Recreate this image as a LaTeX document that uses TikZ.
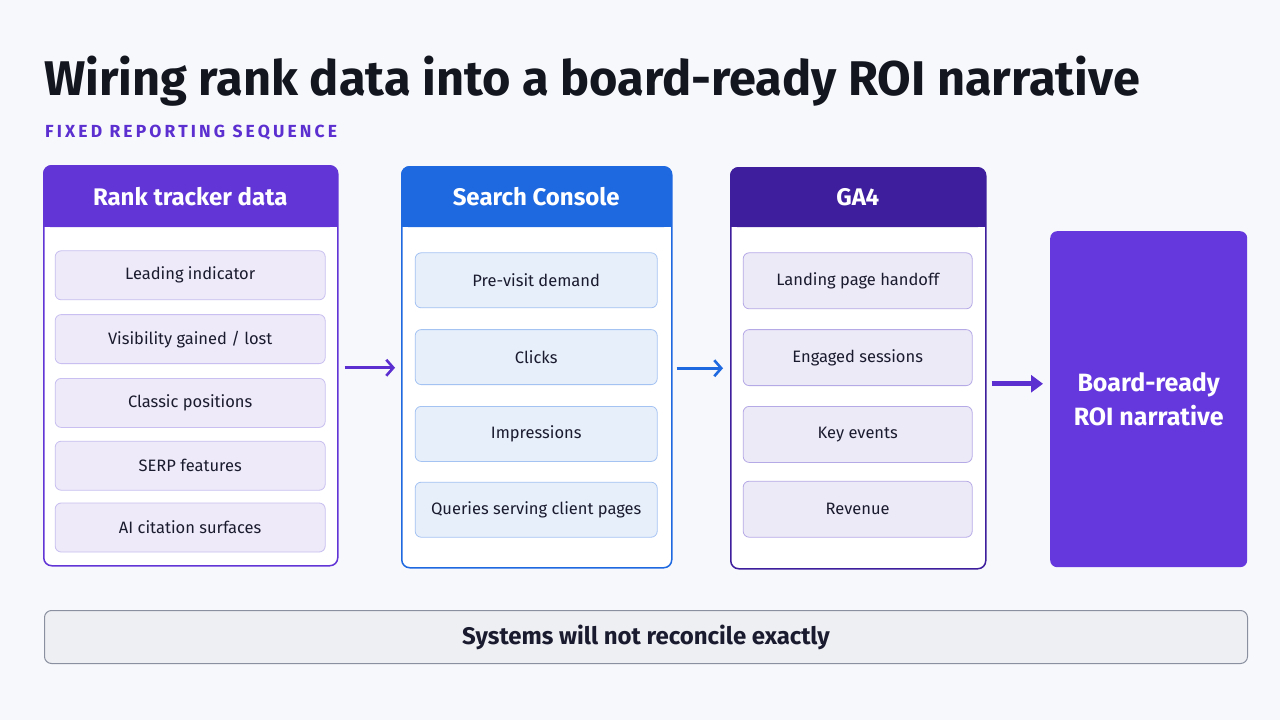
\documentclass[tikz,border=0pt]{standalone}
\usepackage{fontspec}
\setmainfont{Fira Sans}
\newfontfamily\spacedfont[LetterSpace=18]{Fira Sans}
\usetikzlibrary{positioning,arrows.meta,calc}

\definecolor{bgcol}{HTML}{F7F8FC}
\definecolor{titlecol}{HTML}{13161F}
\definecolor{kickercol}{HTML}{5B2FD0}
\definecolor{rankcol}{HTML}{6236D6}
\definecolor{rankitem}{HTML}{EEEAF9}
\definecolor{rankline}{HTML}{C9BFF0}
\definecolor{sccol}{HTML}{1F69E0}
\definecolor{scitem}{HTML}{E7EFFB}
\definecolor{scline}{HTML}{A5C3F2}
\definecolor{gacol}{HTML}{3E1E9C}
\definecolor{gaitem}{HTML}{EDEAF8}
\definecolor{galine}{HTML}{B6AAE6}
\definecolor{boardcol}{HTML}{6538DE}
\definecolor{notecol}{HTML}{EEEFF3}
\definecolor{noteline}{HTML}{8A90A0}
\definecolor{inkcol}{HTML}{1A1B2E}

\begin{document}
\begin{tikzpicture}[x=1pt, y=-1pt,
    panel/.style={draw, line width=1.5pt, fill=white, rounded corners=8pt, anchor=north west},
    header/.style={rounded corners=8pt, anchor=north west, text=white, font=\bfseries\fontsize{24}{28}\selectfont},
    item/.style={draw, line width=0.8pt, rounded corners=6pt, text=inkcol, font=\fontsize{16.5}{20}\selectfont},
    flow/.style={line width=2.6pt, -{Straight Barb[length=7pt,width=16pt,line width=2.6pt]}}]

    \useasboundingbox[fill=bgcol] (0,0) rectangle (1280,720);

    % Title
    \node(title) [anchor=base west, inner sep=0pt, text=titlecol, font=\bfseries\fontsize{48.7}{56}\selectfont] at (44,95) {Wiring rank data into a board-ready ROI narrative};
    \node(kicker) [anchor=base west, inner sep=0pt, text=kickercol, font=\spacedfont\bfseries\fontsize{17.5}{20}\selectfont] at (45,137) {FIXED REPORTING SEQUENCE};

    % Rank tracker
    \node(p1) [panel, draw=rankcol, minimum width=294, minimum height=400] at (43,165) {};
    \fill[rankcol] (43,196) rectangle (337,227);
    \node(h1) [header, fill=rankcol, minimum width=294, minimum height=62] at (43,165) {Rank tracker data};
    \node(r1) [item, draw=rankline, fill=rankitem, minimum width=270, minimum height=49, below=23pt of h1] {Leading indicator};
    \node(r2) [item, draw=rankline, fill=rankitem, minimum width=270, minimum height=49, below=14pt of r1] {Visibility gained / lost};
    \node(r3) [item, draw=rankline, fill=rankitem, minimum width=270, minimum height=49, below=14pt of r2] {Classic positions};
    \node(r4) [item, draw=rankline, fill=rankitem, minimum width=270, minimum height=49, below=13pt of r3] {SERP features};
    \node(r5) [item, draw=rankline, fill=rankitem, minimum width=270, minimum height=49, below=12pt of r4] {AI citation surfaces};

    % Search Console
    \node(p2) [panel, draw=sccol, minimum width=270, minimum height=401] at (401,166) {};
    \fill[sccol] (401,197) rectangle (671,227);
    \node(h2) [header, fill=sccol, minimum width=270, minimum height=61] at (401,166) {Search Console};
    \node(s1) [item, draw=scline, fill=scitem, minimum width=242, minimum height=55, below=25pt of h2] {Pre-visit demand};
    \node(s2) [item, draw=scline, fill=scitem, minimum width=242, minimum height=55, below=21pt of s1] {Clicks};
    \node(s3) [item, draw=scline, fill=scitem, minimum width=242, minimum height=55, below=21pt of s2] {Impressions};
    \node(s4) [item, draw=scline, fill=scitem, minimum width=242, minimum height=55, below=20pt of s3] {Queries serving client pages};

    % GA4
    \node(p3) [panel, draw=gacol, minimum width=255, minimum height=401] at (730,167) {};
    \fill[gacol] (730,197) rectangle (985,227);
    \node(h3) [header, fill=gacol, minimum width=255, minimum height=60] at (730,167) {GA4};
    \node(g1) [item, draw=galine, fill=gaitem, minimum width=229, minimum height=56, below=25pt of h3] {Landing page handoff};
    \node(g2) [item, draw=galine, fill=gaitem, minimum width=229, minimum height=56, below=20pt of g1] {Engaged sessions};
    \node(g3) [item, draw=galine, fill=gaitem, minimum width=229, minimum height=56, below=20pt of g2] {Key events};
    \node(g4) [item, draw=galine, fill=gaitem, minimum width=229, minimum height=56, below=18pt of g3] {Revenue};

    % Outcome
    \node(board) [fill=boardcol, rounded corners=7pt, anchor=north west, minimum width=197, minimum height=336, align=center, text=white, font=\bfseries\fontsize{25}{34}\selectfont] at (1050,231) {Board-ready\\ROI narrative};

    % Caveat
    \node(note) [draw=noteline, line width=1pt, fill=notecol, rounded corners=7pt, anchor=north west, minimum width=1203, minimum height=53, text=inkcol, font=\bfseries\fontsize{24}{28}\selectfont] at (44,610) {Systems will not reconcile exactly};

    % Draw Arrows
    \draw[flow, draw=kickercol, shorten <=6pt, shorten >=6pt] ([yshift=-2pt]p1.east) -- ([yshift=-2pt]p1.east -| p2.west);
    \draw[flow, draw=sccol, shorten <=4pt, shorten >=7pt] ([yshift=-1pt]p2.east) -- ([yshift=-1pt]p2.east -| p3.west);
    \draw[line width=5pt, draw=kickercol, -{Triangle[length=12pt,width=17pt]}, shorten <=5pt, shorten >=7pt] ([yshift=-15.5pt]p3.east) -- ([yshift=-15.5pt]p3.east -| board.west);

\end{tikzpicture}
\end{document}
